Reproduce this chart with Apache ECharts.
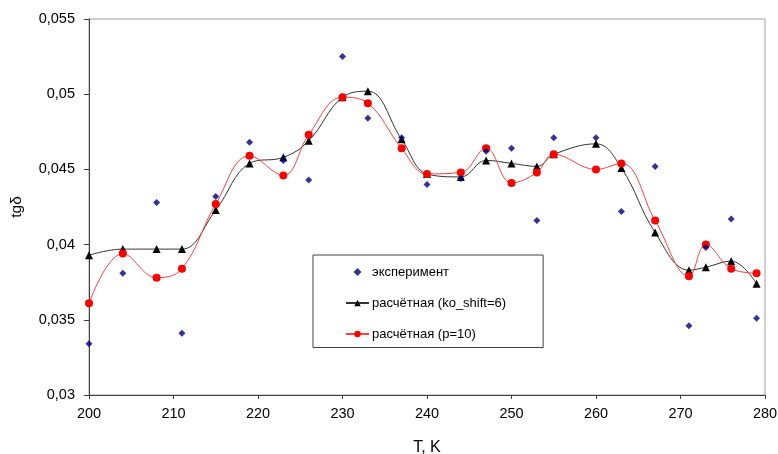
<!DOCTYPE html>
<html>
<head>
<meta charset="utf-8">
<script src="https://cdn.jsdelivr.net/npm/echarts@6/dist/echarts.min.js"></script>
<style>
  html, body { margin: 0; padding: 0; background: #fff; }
  #chart { width: 778px; height: 454px; }
</style>
</head>
<body>
<div id="chart"></div>
<script>
// temperatures, K
const temps = [200, 204, 208, 211, 215, 219, 223, 226, 230, 233, 237, 240,
  244, 247, 250, 253, 255, 260, 263, 267, 271, 273, 276, 279];

// measured tg delta
const experiment = [0.0334, 0.0381, 0.0428, 0.0341, 0.0432, 0.0468, 0.0456, 0.0443,
  0.0525, 0.0484, 0.0471, 0.0440, 0.0444, 0.0462, 0.0464, 0.0416, 0.0471, 0.0471,
  0.0422, 0.0452, 0.0346, 0.0398, 0.0417, 0.0351];

// calculated, ko_shift=6
const koShift = [0.0393, 0.0397, 0.0397, 0.0397, 0.0423, 0.0454, 0.0458, 0.0469,
  0.0498, 0.0502, 0.0470, 0.0447, 0.0445, 0.0456, 0.0454, 0.0452, 0.0460, 0.0467,
  0.0451, 0.0408, 0.0383, 0.0385, 0.0389, 0.0374];

// calculated, p=10
const pTen = [0.0361, 0.0394, 0.0378, 0.0384, 0.0427, 0.0459, 0.0446, 0.0473,
  0.0498, 0.0494, 0.0464, 0.0447, 0.0448, 0.0464, 0.0441, 0.0448, 0.0460, 0.0450,
  0.0454, 0.0416, 0.0379, 0.0400, 0.0384, 0.0381];

const pairs = vals => temps.map((t, i) => [t, vals[i]]);
const font = "'Liberation Sans', Arial, sans-serif";

const chart = echarts.init(document.getElementById('chart'), null, { renderer: 'canvas' });

chart.setOption({
  animation: false,
  backgroundColor: '#fff',
  textStyle: { fontFamily: font },
  grid: {
    left: 89, right: 13, top: 19, bottom: 59,
    containLabel: false, outerBoundsMode: 'none',
    show: true, borderColor: '#a0a0a0', borderWidth: 1
  },
  xAxis: {
    type: 'value', min: 200, max: 280, interval: 10,
    name: 'T, K', nameLocation: 'middle', nameGap: 45,
    nameTextStyle: { fontSize: 16, color: '#000', fontFamily: font },
    axisLine: { lineStyle: { color: '#404040', width: 1 } },
    axisTick: { show: true, length: 4, lineStyle: { color: '#404040' } },
    axisLabel: { fontSize: 14.5, color: '#000', margin: 11, fontFamily: font },
    splitLine: { show: false }
  },
  yAxis: {
    type: 'value', min: 0.03, max: 0.055, interval: 0.005,
    name: 'tgδ', nameLocation: 'middle', nameGap: 64, nameRotate: 90,
    nameTextStyle: { fontSize: 15.5, color: '#000', fontFamily: font },
    axisLine: { show: true, lineStyle: { color: '#404040', width: 1 } },
    axisTick: { show: true, length: 5, lineStyle: { color: '#404040' } },
    axisLabel: {
      fontSize: 14.5, color: '#000', margin: 14, fontFamily: font,
      formatter: v => String(+v.toFixed(3)).replace('.', ',')
    },
    splitLine: { show: false }
  },
  legend: {
    orient: 'vertical',
    left: 313, top: 255,
    padding: [10.5, 37, 7, 32],
    itemGap: 18,
    itemWidth: 23, itemHeight: 8,
    symbolKeepAspect: true,
    backgroundColor: '#fff',
    borderColor: '#404040', borderWidth: 1,
    textStyle: { fontSize: 13, color: '#000', fontFamily: font, padding: [0, 0, 0, -2] },
    data: [
      { name: 'эксперимент', icon: 'path://M0,-1L1,0L0,1L-1,0Z' },
      'расчётная (ko_shift=6)',
      'расчётная (p=10)'
    ]
  },
  series: [
    {
      name: 'расчётная (ko_shift=6)',
      type: 'line',
      data: pairs(koShift),
      smooth: 0.4,
      symbol: 'triangle', symbolSize: 8,
      itemStyle: { color: '#000' },
      lineStyle: { color: '#333', width: 1 },
      z: 2
    },
    {
      name: 'расчётная (p=10)',
      type: 'line',
      data: pairs(pTen),
      smooth: 0.4,
      symbol: 'circle', symbolSize: 8,
      itemStyle: { color: '#ff0000' },
      lineStyle: { color: '#ff4040', width: 1 },
      z: 3
    },
    {
      name: 'эксперимент',
      type: 'scatter',
      data: pairs(experiment),
      symbol: 'diamond', symbolSize: 7,
      itemStyle: { color: '#000080' },
      z: 4
    }
  ]
});
</script>
</body>
</html>
